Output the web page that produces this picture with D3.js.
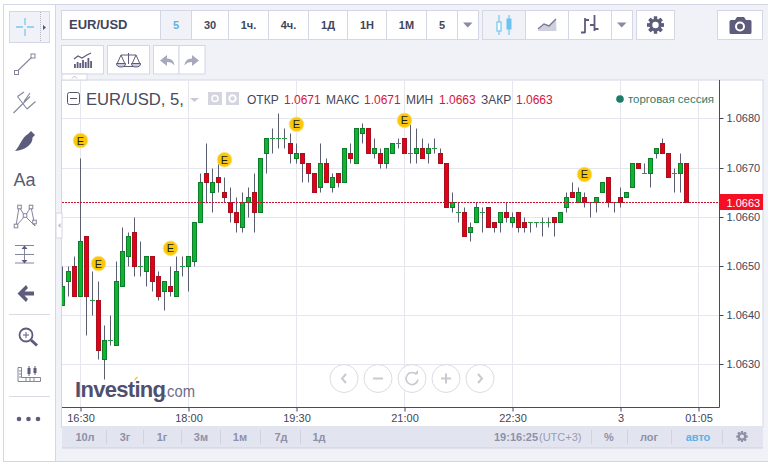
<!DOCTYPE html>
<html><head><meta charset="utf-8">
<script src="https://cdn.jsdelivr.net/npm/d3@7"></script>
<style>html,body{margin:0;padding:0;background:#fff}svg{display:block}text{font-family:"Liberation Sans",Arial,sans-serif}</style>
</head><body><div id="c"></div>
<script>
const opens=[1.0642,1.0647,1.0650,1.0644,1.0656,1.0643,1.0643,1.0631,1.0635,1.0634,1.0646,1.0652,1.0657,1.0650,1.0649,1.0652,1.0648,1.0645,1.0646,1.0644,1.0650,1.0650,1.0651,1.0659,1.0669,1.0665,1.0668,1.0665,1.0663,1.0661,1.0658,1.0663,1.0665,1.0661,1.0673,1.0676,1.0676,1.0676,1.0675,1.0672,1.0673,1.0671,1.0669,1.0666,1.0671,1.0666,1.0669,1.0667,1.0673,1.0671,1.0677,1.0678,1.0673,1.0673,1.0671,1.0673,1.0675,1.0676,1.0673,1.0673,1.0674,1.0673,1.0674,1.0673,1.0671,1.0662,1.0661,1.0661,1.0657,1.0659,1.0661,1.0662,1.0659,1.0659,1.0661,1.0659,1.0661,1.0659,1.0659,1.0659,1.0659,1.0659,1.0660,1.0659,1.0662,1.0665,1.0663,1.0664,1.0663,1.0663,1.0665,1.0668,1.0663,1.0664,1.0664,1.0666,1.0671,1.0669,1.0669,1.0673,1.0675,1.0673,1.0669,1.0669,1.0671];
const highs=[1.0650,1.0650,1.0652,1.0672,1.0656,1.0649,1.0647,1.0638,1.0640,1.0651,1.0658,1.0657,1.0660,1.0655,1.0652,1.0652,1.0649,1.0647,1.0650,1.0652,1.0652,1.0652,1.0659,1.0669,1.0675,1.0670,1.0672,1.0668,1.0666,1.0664,1.0665,1.0666,1.0669,1.0672,1.0676,1.0678,1.0681,1.0678,1.0677,1.0675,1.0673,1.0671,1.0669,1.0675,1.0672,1.0669,1.0669,1.0674,1.0675,1.0678,1.0679,1.0678,1.0676,1.0674,1.0674,1.0675,1.0676,1.0676,1.0679,1.0678,1.0676,1.0675,1.0676,1.0674,1.0671,1.0665,1.0663,1.0662,1.0659,1.0663,1.0662,1.0662,1.0659,1.0661,1.0663,1.0661,1.0661,1.0660,1.0659,1.0659,1.0660,1.0660,1.0660,1.0661,1.0665,1.0667,1.0666,1.0665,1.0663,1.0664,1.0667,1.0668,1.0663,1.0666,1.0665,1.0671,1.0671,1.0671,1.0672,1.0674,1.0676,1.0673,1.0670,1.0673,1.0671];
const lows=[1.0642,1.0644,1.0644,1.0644,1.0636,1.0640,1.0631,1.0627,1.0634,1.0634,1.0646,1.0650,1.0648,1.0648,1.0646,1.0645,1.0643,1.0641,1.0644,1.0644,1.0648,1.0645,1.0650,1.0659,1.0663,1.0661,1.0665,1.0663,1.0659,1.0657,1.0657,1.0660,1.0657,1.0661,1.0669,1.0673,1.0674,1.0674,1.0671,1.0671,1.0667,1.0667,1.0665,1.0665,1.0667,1.0665,1.0666,1.0667,1.0671,1.0671,1.0675,1.0673,1.0672,1.0670,1.0670,1.0673,1.0674,1.0673,1.0671,1.0671,1.0672,1.0671,1.0673,1.0671,1.0662,1.0661,1.0659,1.0656,1.0655,1.0659,1.0657,1.0658,1.0657,1.0657,1.0659,1.0658,1.0657,1.0657,1.0657,1.0658,1.0656,1.0658,1.0656,1.0659,1.0661,1.0664,1.0663,1.0662,1.0660,1.0661,1.0665,1.0662,1.0661,1.0662,1.0664,1.0666,1.0670,1.0669,1.0666,1.0672,1.0673,1.0668,1.0665,1.0665,1.0663];
const closes=[1.0646,1.0649,1.0644,1.0655,1.0644,1.0643,1.0633,1.0635,1.0635,1.0647,1.0653,1.0656,1.0650,1.0650,1.0652,1.0647,1.0644,1.0647,1.0645,1.0649,1.0650,1.0652,1.0659,1.0667,1.0667,1.0667,1.0667,1.0664,1.0661,1.0659,1.0663,1.0664,1.0661,1.0672,1.0676,1.0676,1.0676,1.0676,1.0673,1.0673,1.0671,1.0669,1.0665,1.0671,1.0667,1.0668,1.0667,1.0674,1.0672,1.0678,1.0678,1.0673,1.0674,1.0671,1.0674,1.0675,1.0675,1.0673,1.0673,1.0674,1.0672,1.0674,1.0674,1.0671,1.0662,1.0663,1.0661,1.0656,1.0658,1.0662,1.0661,1.0658,1.0658,1.0661,1.0660,1.0660,1.0658,1.0658,1.0659,1.0659,1.0659,1.0659,1.0659,1.0661,1.0664,1.0664,1.0665,1.0663,1.0663,1.0664,1.0667,1.0663,1.0663,1.0663,1.0665,1.0671,1.0670,1.0669,1.0672,1.0674,1.0673,1.0668,1.0669,1.0671,1.0663];
const priceTicks=[1.0680,1.0670,1.0660,1.0650,1.0640,1.0630];
const timeTickIdx=[3,21,39,57,75,93,106];
const timeTickLabels=["16:30","18:00","19:30","21:00","22:30","3","01:05"];
const eventIdx=[3,6,18,27,39,57,87];
const eventPrice=[1.06755,1.06505,1.06536,1.06716,1.06788,1.06796,1.06686];
const lastPrice=1.0663;
const intervals=["5","30","1ч.","4ч.","1Д","1Н","1М","5"];
const ranges=["10л","3г","1г","3м","1м","7д","1д"];

const W=768,H=464,L=62,R=719.5,T=80,B=407.5;
const svg=d3.select("#c").append("svg").attr("width",W).attr("height",H);
const BG="#f0f2f8",BD="#d3d6e4",IC="#5d5c7c",TX="#43455a";
svg.append("rect").attr("x",3.5).attr("y",4.5).attr("width",W).attr("height",457).attr("fill",BG).attr("stroke",BD);
svg.append("rect").attr("x",4).attr("y",5).attr("width",51).attr("height",456).attr("fill","#fff");
svg.append("line").attr("x1",55.5).attr("x2",55.5).attr("y1",5).attr("y2",461).attr("stroke",BD);

const box=(x,y,w,h,fill,stroke)=>svg.append("rect").attr("x",x).attr("y",y).attr("width",w).attr("height",h).attr("fill",fill||"#fff").attr("stroke",stroke||BD);
const txt=(x,y,s,o={})=>svg.append("text").attr("x",x).attr("y",y).text(s).attr("font-size",o.size||12).attr("font-weight",o.bold?"bold":null).attr("fill",o.fill||TX).attr("text-anchor",o.anchor||"start").attr("letter-spacing",o.ls||null);
const path=(d,o={})=>svg.append("path").attr("d",d).attr("fill",o.fill||"none").attr("stroke",o.stroke||"none").attr("stroke-width",o.sw||1).attr("stroke-dasharray",o.dash||null).attr("opacity",o.op||null);
const gear=(cx,cy,r,col,bg)=>{
  const g=svg.append("g");
  d3.range(8).forEach(i=>{const a=i*Math.PI/4;g.append("line").attr("x1",cx-Math.cos(a)*r).attr("y1",cy-Math.sin(a)*r).attr("x2",cx+Math.cos(a)*r).attr("y2",cy+Math.sin(a)*r).attr("stroke",col).attr("stroke-width",r*0.38);});
  g.append("circle").attr("cx",cx).attr("cy",cy).attr("r",r*0.56).attr("fill",bg).attr("stroke",col).attr("stroke-width",r*0.36);
};

/* top toolbar */
box(61.5,10.5,99,29);
txt(69,29,"EUR/USD",{size:13,bold:1,fill:TX});
const btnX=[160.5,191.5,228.5,268.5,308.5,347.5,386.5,426.5];
const btnW=[31,37,40,40,39,39,40,31];
intervals.forEach((s,i)=>{
  box(btnX[i],10.5,btnW[i],29,i==0?BG:"#fff");
  txt(btnX[i]+btnW[i]/2,28.5,s,{bold:1,size:11,anchor:"middle",fill:i==0?"#5ab4e6":TX});
});
box(457.5,10.5,21,29);
path("M463 22.5h9.5l-4.75 5z",{fill:"#8a8aa0"});
box(482.5,10.5,43,29,BG);box(525.5,10.5,43,29);box(568.5,10.5,43,29);box(611.5,10.5,21,29);
path("M617 22.5h9.5l-4.75 5z",{fill:"#8a8aa0"});
box(636.5,10.5,38,29);gear(655.5,25,8.5,IC,"#fff");
box(717.5,10.5,45,29);
path("M731 20h4l2-3h7l2 3h4a1.5 1.5 0 0 1 1.5 1.5v11a1.5 1.5 0 0 1-1.5 1.5h-19a1.5 1.5 0 0 1-1.5-1.5v-11a1.5 1.5 0 0 1 1.5-1.5z",{fill:IC});
svg.append("circle").attr("cx",740).attr("cy",26.5).attr("r",4).attr("fill",IC).attr("stroke","#fff").attr("stroke-width",2);
/* candle type icons */
path("M499 15v20M509 15v20",{stroke:"#8fd0f0",sw:1.5});
svg.append("rect").attr("x",497).attr("y",22).attr("width",4).attr("height",9).attr("fill","#fff").attr("stroke","#7cc8ee").attr("stroke-width",1.3);
svg.append("rect").attr("x",506.5).attr("y",18.5).attr("width",5).attr("height",11).attr("fill","#6cc3ef");
path("M538 30l6-5 5 2 7-7 .5 11h-18.5z",{fill:"#cfd0de"});
path("M538 29l6-5 5 2 7-7",{stroke:"#77779a",sw:1.5});
path("M585 18v15M581 32.5h4M585 20h4M594.500 15v16M590 25h4.500M594.500 29h4",{stroke:IC,sw:1.8});
/* second row */
box(61.5,45.5,42,28.5);box(107.5,45.5,42,28.5);box(153.5,45.5,25.5,28.5);box(179,45.5,26,28.5);
const bars=[4,6,5,8,6,10,7];
bars.forEach((h,i)=>svg.append("rect").attr("x",74+i*2.7).attr("y",68-h).attr("width",1.8).attr("height",h).attr("fill",IC));
path("M74 59l4-3 4 2 5-3 4-2",{stroke:IC,sw:1.2});
path("M128.500 53v11M121 55h15M121 55l-4 9M121 55l4 9M136 55l-4 9M136 55l4 9M124 66.500h9",{stroke:IC,sw:1});
path("M116.500 63.500h9a4.500 3.500 0 0 1-9 0zM131.500 63.500h9a4.500 3.500 0 0 1-9 0z",{fill:"#cbcbd9",stroke:IC,sw:1});
path("M160 60.500l7-5.500v3.500c5 0 7 3 7.500 7-2-2.500-4-3.500-7.500-3.500v4z",{fill:"#a7a8bc"});
path("M199 60.500l-7-5.500v3.500c-5 0-7 3-7.500 7 2-2.500 4-3.500 7.500-3.500v4z",{fill:"#a7a8bc"});
/* chart panel */
box(L-.5,T,R-L+44,347);
box(62,74,25,6);
path("M72 78.500l2.500-2.500 2.500 2.500",{stroke:"#b8b8c6"});

const x=d3.scaleLinear().domain([0,106]).range([62.5,698.5]);
const y=d3.scaleLinear().domain([1.0630,1.0680]).range([364.4,118.4]);
const py=v=>Math.round(y(v))+.5;
const defs=svg.append("defs");
defs.append("clipPath").attr("id","pc").append("rect").attr("x",L).attr("y",T).attr("width",R-L).attr("height",B-T);

/* grid */
const gridG=svg.append("g").attr("stroke","#e5e6ee");
timeTickIdx.forEach(i=>gridG.append("line").attr("x1",x(i)).attr("x2",x(i)).attr("y1",T+1).attr("y2",B));
priceTicks.forEach(p=>gridG.append("line").attr("x1",L).attr("x2",R).attr("y1",py(p)).attr("y2",py(p)));

/* axes */
const yAxis=d3.axisRight(y).tickValues(priceTicks).tickFormat(d3.format(".4f")).tickSize(4).tickPadding(3);
const yG=svg.append("g").attr("transform",`translate(${R},0)`).call(yAxis);
yG.select(".domain").remove();
yG.selectAll(".tick").attr("transform",d=>`translate(0,${py(d)})`);
yG.selectAll("line").attr("stroke","#43455a");
yG.selectAll("text").attr("font-size",11).attr("font-family",'"Liberation Sans",Arial,sans-serif').attr("fill","#43455a");
const xAxis=d3.axisBottom(x).tickValues(timeTickIdx).tickFormat((d,i)=>timeTickLabels[i]).tickSize(4).tickPadding(3);
const xG=svg.append("g").attr("transform",`translate(0,${B})`).call(xAxis);
xG.select(".domain").remove();
xG.selectAll("line").attr("stroke","#43455a");
xG.selectAll("text").attr("font-size",11).attr("font-family",'"Liberation Sans",Arial,sans-serif').attr("fill","#43455a");
svg.append("path").attr("d",`M${L} ${B}H${R}V${T}`).attr("fill","none").attr("stroke","#4a4b60");

/* logo */
txt(75,397,"Investing",{size:22,bold:1,fill:"#4f4f70",ls:"-0.7"});
txt(163,397,".com",{size:17,fill:"#6d6d88"}).attr("textLength",32).attr("lengthAdjust","spacingAndGlyphs");
path("M134.500 380l3-3",{stroke:"#f2c24a",sw:1.5});

/* candles */
const plot=svg.append("g").attr("clip-path","url(#pc)");
const WICK="#5b5d70",UP="#10b52f",UPB="#0d7d2c",DN="#e30018",DNB="#a5121f";
const idx=d3.range(opens.length);
plot.append("g").selectAll("line").data(idx).join("line")
  .attr("x1",i=>x(i)).attr("x2",i=>x(i)).attr("y1",i=>py(highs[i])).attr("y2",i=>py(lows[i])).attr("stroke",WICK);
plot.append("g").selectAll("rect").data(idx.filter(i=>opens[i]!==closes[i])).join("rect")
  .attr("x",i=>x(i)-2).attr("width",4)
  .attr("y",i=>py(Math.max(opens[i],closes[i])))
  .attr("height",i=>py(Math.min(opens[i],closes[i]))-py(Math.max(opens[i],closes[i])))
  .attr("fill",i=>closes[i]>opens[i]?UP:DN).attr("stroke",i=>closes[i]>opens[i]?UPB:DNB);
plot.append("g").selectAll("line").data(idx.filter(i=>opens[i]===closes[i])).join("line")
  .attr("x1",i=>x(i)-2.5).attr("x2",i=>x(i)+2.5).attr("y1",i=>py(closes[i])).attr("y2",i=>py(closes[i])).attr("stroke","#2a9a45");
/* last price */
svg.append("line").attr("x1",L).attr("x2",R).attr("y1",py(lastPrice)).attr("y2",py(lastPrice)).attr("stroke","#c8102e").attr("stroke-dasharray","2 1");
svg.append("rect").attr("x",R+.5).attr("y",py(lastPrice)-8.5).attr("width",43).attr("height",16).attr("fill","#f40f24");
svg.append("text").attr("x",R+7).attr("y",py(lastPrice)+4).text(d3.format(".4f")(lastPrice)).attr("font-size",11).attr("fill","#fff");

/* event markers */
const ev=svg.append("g").selectAll("g").data(eventIdx).join("g").attr("transform",(d,i)=>`translate(${x(d)},${y(eventPrice[i])})`);
ev.append("circle").attr("r",7.3).attr("fill","#fbc70a").attr("stroke","#fde27a");
ev.append("text").attr("text-anchor","middle").attr("y",4).text("E").attr("font-size",11).attr("fill","#1d1d1d");

/* header */
svg.append("rect").attr("x",67.5).attr("y",92.5).attr("width",12).attr("height",12).attr("rx",2).attr("fill","#fff").attr("stroke","#55566b");
path("M70 98.500h7",{stroke:"#55566b"});
txt(86,105,"EUR/USD, 5,",{size:17,fill:"#494a5e"}).attr("textLength",98).attr("lengthAdjust","spacingAndGlyphs");
path("M190 98h9l-4.500 4z",{fill:"#c8c9d6"});
svg.append("rect").attr("x",208).attr("y",92).attr("width",14).attr("height",13).attr("fill","#d4d5e0");
svg.append("circle").attr("cx",215).attr("cy",98.5).attr("r",3).attr("fill","none").attr("stroke","#fff").attr("stroke-width",1.5);
svg.append("rect").attr("x",226).attr("y",92).attr("width",13).attr("height",13).attr("fill","#d4d5e0");
svg.append("circle").attr("cx",232.5).attr("cy",98.5).attr("r",3.2).attr("fill","none").attr("stroke","#fff").attr("stroke-width",2);
const hdrLabels=["ОТКР","МАКС","МИН","ЗАКР"],hdrVals=[1.0671,1.0671,1.0663,1.0663];
const hdrLx=[247,326,406,481],hdrVx=[284,364,439,516];
hdrLabels.forEach((s,i)=>{txt(hdrLx[i],104,s,{fill:"#44465c"});txt(hdrVx[i],104,d3.format(".4f")(hdrVals[i]),{fill:"#d8123c"});});
svg.append("circle").attr("cx",620).attr("cy",99).attr("r",3.8).attr("fill","#1f7a68");
txt(628,103,"торговая сессия",{size:11,fill:"#2f7d6b"}).attr("textLength",86).attr("lengthAdjust","spacingAndGlyphs");

/* nav */
const navX=[344,378,412,446,480];
navX.forEach(c=>svg.append("circle").attr("cx",c).attr("cy",378.5).attr("r",14).attr("fill","#fff").attr("fill-opacity",.8).attr("stroke","#dcdce2"));
const NV="#c9c9d2";
path("M346 374l-4 4.500 4 4.500",{stroke:NV,sw:2});
path("M373 378.500h10",{stroke:NV,sw:2});
path("M416.500 374.500a6 6 0 1 0 1.500 5",{stroke:NV,sw:1.6});path("M414 374h4v-4z",{fill:NV});
path("M441 378.500h10M446 373.500v10",{stroke:NV,sw:2});
path("M478 374l4 4.500-4 4.500",{stroke:NV,sw:2});

/* range bar */
svg.append("rect").attr("x",62).attr("y",426).attr("width",701).attr("height",22).attr("fill","#e2e5f0");
svg.append("line").attr("x1",62).attr("x2",763).attr("y1",448).attr("y2",448).attr("stroke","#cdd0de");
const rangeCx=[85,125,162,201,240,281,319];
ranges.forEach((s,i)=>txt(rangeCx[i],441,s,{bold:1,size:11,anchor:"middle",fill:"#8f90a8"}));
[106.5,143.5,181.5,220.5,260.5,300.5,591.5,627.5,671.5,722.5].forEach(p=>svg.append("line").attr("x1",p).attr("x2",p).attr("y1",430).attr("y2",444).attr("stroke","#d0d2de"));
txt(494,441,"19:16:25",{bold:1,size:11,fill:"#8f90a8"});
txt(539,441,"(UTC+3)",{size:11,fill:"#9a9bb2"});
txt(609,441,"%",{bold:1,size:11,anchor:"middle",fill:"#8f90a8"});
txt(649,441,"лог",{bold:1,size:11,anchor:"middle",fill:"#8f90a8"});
txt(698,441,"авто",{bold:1,size:11,anchor:"middle",fill:"#59b3e6"});
gear(742,436.5,5.5,"#8f90a8","#e2e5f0");

/* left toolbar */
box(9.5,11.5,40,31,BG);
path("M40.500 12v30",{stroke:"#b5b7c6",dash:"1 1"});
path("M43 25l3 2.500-3 2.500z",{fill:"#55566b"});
path("M25 18v7M25 29v7M16 27h7M27 27h7",{stroke:"#7cc8ee",sw:1.3});
const LI="#85859c";
path("M17 71.500L32 57",{stroke:LI,sw:1.1});
[[16.5,72.5],[33,56]].forEach(p=>svg.append("rect").attr("x",p[0]-2).attr("y",p[1]-2).attr("width",4).attr("height",4).attr("fill","#fff").attr("stroke",LI));
path("M13.500 113l8.500-8.500M17.500 96.500L27 109M17.500 96.500L24 92M22 104.500L30 96.500M27 109L35.500 101.500M24 101.500L30 93",{stroke:LI,sw:1.1});
path("M15 151c5-5 7-14 13-17l3-3 4 4-2.500 2.500c.5 7-7.500 12.500-17.500 13.500z",{fill:IC});
txt(24.5,186,"Aa",{size:18,anchor:"middle",fill:"#5a5b70"});
path("M16 226l3-19M19 207l6 9M25 216l6-9M31 207l4 19M16 226l9-10 10 10",{stroke:LI,sw:1});
[[16,226],[19.5,207],[25,215.5],[31,207],[34.5,222]].forEach(p=>svg.append("rect").attr("x",p[0]-1.8).attr("y",p[1]-1.8).attr("width",3.6).attr("height",3.6).attr("fill","#fff").attr("stroke",LI));
path("M15 245.500h19M15 254.500h19M15 263h19M24.500 246v17",{stroke:LI});
path("M21.500 249h6l-3-3.500zM21.500 260h6l-3 3.500z",{fill:IC});
path("M26 285l-8.500 8.500 8.500 8.500 2-3-3.500-3.500h9.500v-4h-9.500l3.500-3.500z",{fill:IC});
path("M9 314.500h41M9 396.500h41",{stroke:"#d8dae5"});
svg.append("circle").attr("cx",26).attr("cy",335).attr("r",6.5).attr("fill","none").attr("stroke",IC).attr("stroke-width",1.8);
path("M23 335h6M26 332v6",{stroke:IC});
path("M31 340l6 5.500",{stroke:IC,sw:3});
path("M18 367.500v14h22.500v-4h-19v-10z",{fill:"#fff",stroke:LI});
path("M19 371h3M19 374h3M19 377h3M26 378v3M30 378v3M34 378v3",{stroke:LI});
[[29,367,6,8],[35,367,5,7]].forEach(p=>{svg.append("rect").attr("x",p[0]-1.5).attr("y",p[1]+1).attr("width",3).attr("height",p[3]-2).attr("fill",IC);svg.append("line").attr("x1",p[0]).attr("x2",p[0]).attr("y1",p[1]-1).attr("y2",p[1]+p[3]+1).attr("stroke",IC);});
[19,28.5,38].forEach(c=>svg.append("circle").attr("cx",c).attr("cy",419).attr("r",2.3).attr("fill",IC));
/* side tab */
svg.append("rect").attr("x",56).attr("y",213).attr("width",6).attr("height",25).attr("fill","#fff").attr("stroke",BD);
path("M60.500 223l-2.500 2.500 2.500 2.500z",{fill:"#b8b8c6"});
</script></body></html>
